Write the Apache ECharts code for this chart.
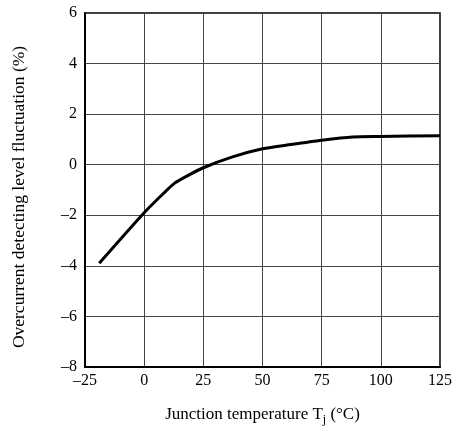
<!DOCTYPE html>
<html><head><meta charset="utf-8">
<script src="https://cdn.jsdelivr.net/npm/echarts@6/dist/echarts.min.js"></script>
<style>html,body{margin:0;padding:0;background:#fff}#c{width:461px;height:428px}</style>
</head><body><div id="c"></div>
<script>
const temps = [-19, 0, 8, 13, 18, 25, 37, 50, 62, 75, 88, 100, 125];
const fluct = [-3.9, -1.9, -1.15, -0.72, -0.45, -0.12, 0.3, 0.63, 0.8, 0.97, 1.1, 1.12, 1.15];
const xTicks = [-25, 0, 25, 50, 75, 100, 125];
const yTicks = [-8, -6, -4, -2, 0, 2, 4, 6];
const font = 'Liberation Serif';
const fmt = v => String(v).replace('-', '\u2013');
const chart = echarts.init(document.getElementById('c'));
chart.setOption({
  animation: false,
  grid: {left: 85, right: 21, top: 13, bottom: 61, outerBoundsMode: 'none', containLabel: false, show: true, borderColor: '#000', borderWidth: 1.5, backgroundColor: 'transparent'},
  xAxis: {
    type: 'value', min: xTicks[0], max: xTicks[xTicks.length-1], interval: 25,
    axisLine: {show: true, onZero: false, lineStyle: {color: '#000', width: 2}},
    axisTick: {show: false},
    splitLine: {show: true, lineStyle: {color: '#444', width: 1}},
    axisLabel: {fontFamily: font, fontSize: 16, color: '#000', margin: 6, formatter: fmt},
    name: '{a|Junction temperature T}{s|j}{a| (°C)}',
    nameLocation: 'middle', nameGap: 37,
    nameTextStyle: {rich: {a: {fontFamily: font, fontSize: 17, color: '#000'}, s: {fontFamily: font, fontSize: 12, color: '#000', padding: [10, 0, 0, 0]}}}
  },
  yAxis: {
    type: 'value', min: yTicks[0], max: yTicks[yTicks.length-1], interval: 2,
    axisLine: {show: true, onZero: false, lineStyle: {color: '#000', width: 2}},
    axisTick: {show: false},
    splitLine: {show: true, lineStyle: {color: '#444', width: 1}},
    axisLabel: {fontFamily: font, fontSize: 16, color: '#000', margin: 8, formatter: fmt},
    name: 'Overcurrent detecting level fluctuation (%)',
    nameLocation: 'middle', nameGap: 57,
    nameTextStyle: {fontFamily: font, fontSize: 17.5, color: '#000', padding: [0, 14, 0, 0]}
  },
  series: [{
    type: 'line', data: temps.map((t, i) => [t, fluct[i]]),
    smooth: 0.25, showSymbol: false,
    lineStyle: {color: '#000', width: 3}
  }]
});
</script></body></html>
